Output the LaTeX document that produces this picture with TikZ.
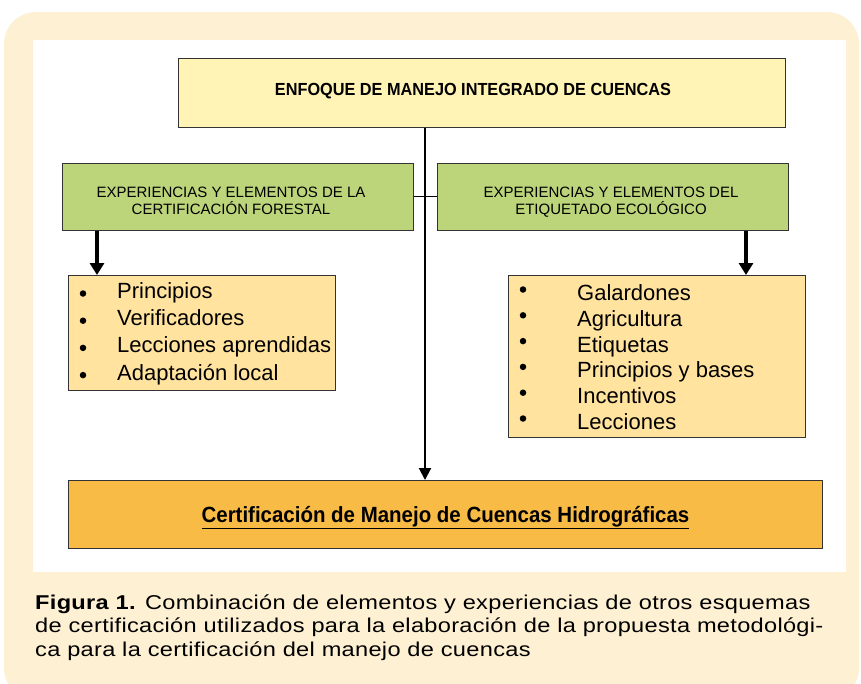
\documentclass[tikz,border=0pt]{standalone}
\usepackage{fontspec}
\setmainfont{Liberation Sans}
\newfontfamily\topfont[FakeStretch=0.93]{Liberation Sans}
\newfontfamily\capfont[FakeStretch=1.18,LetterSpace=1.5]{Liberation Sans}
\usetikzlibrary{arrows.meta}
\definecolor{panelc}{HTML}{FEF0D2}
\definecolor{topc}{HTML}{FFF3B6}
\definecolor{greenc}{HTML}{BCD47A}
\definecolor{listc}{HTML}{FFE39E}
\definecolor{botc}{HTML}{F8BB46}
\tikzset{
  box/.style={draw=black!80, line width=0.8pt, anchor=north west, inner sep=0pt},
  itemtxt/.style={anchor=base west, inner sep=0pt, font=\fontsize{22}{24}\selectfont},
  bul/.style={circle, fill=black, inner sep=0pt, minimum size=6.5pt},
  gtxt/.style={anchor=base, inner sep=0pt, font=\fontsize{15}{18}\selectfont},
  captxt/.style={anchor=base west, inner sep=0pt, font=\capfont\fontsize{20}{23}\selectfont},
  thick arrow/.style={line width=4pt, -{Triangle[length=12pt,width=14pt]}},
  thin arrow/.style={line width=2pt, -{Triangle[length=12pt,width=12pt]}},
}
\begin{document}
\begin{tikzpicture}[x=1pt,y=-1pt]
\useasboundingbox (0,0) rectangle (861,683);
% panel
\fill[panelc, rounded corners=32pt] (4,12) rectangle (859,700);
\fill[white] (33,40) rectangle (846,572);
% top box
\node[box, fill=topc, minimum width=607pt, minimum height=69pt] (top) at (178,58) {};
\node[anchor=base, inner sep=0pt, font=\topfont\bfseries\fontsize{17.5}{20}\selectfont] (toptxt) at (473,95.3) {ENFOQUE DE MANEJO INTEGRADO DE CUENCAS};
% green boxes
\node[box, fill=greenc, minimum width=351pt, minimum height=67pt] (gl) at (62,163) {};
\node[gtxt] (gl1) at (231,197) {EXPERIENCIAS Y ELEMENTOS DE LA};
\node[gtxt] (gl2) at (231,214) {CERTIFICACIÓN FORESTAL};
\node[box, fill=greenc, minimum width=351pt, minimum height=67pt] (gr) at (437,163) {};
\node[gtxt] (gr1) at (611,197) {EXPERIENCIAS Y ELEMENTOS DEL};
\node[gtxt] (gr2) at (611,214) {ETIQUETADO ECOLÓGICO};
% list boxes
\node[box, fill=listc, minimum width=267pt, minimum height=115pt] (ll) at (68,275) {};
\node[box, fill=listc, minimum width=297pt, minimum height=162pt] (lr) at (508,275) {};
% bottom box
\node[box, fill=botc, minimum width=754pt, minimum height=68pt] (bot) at (68,480) {};
\node[anchor=base, inner sep=0pt, font=\topfont\bfseries\fontsize{22}{24}\selectfont] (bottxt) at (445.5,522.3) {\underline{Certificación de Manejo de Cuencas Hidrográficas}};
% left list
\foreach \t [count=\i] in {Principios,Verificadores,Lecciones aprendidas,Adaptación local}{
  \node[bul] (lb\i) at (83,{293.5+27.2*(\i-1)}) {};
  \node[itemtxt] (li\i) at (117,{298.5+27.2*(\i-1)}) {\t};
}
% right list
\foreach \t [count=\i] in {Galardones,Agricultura,Etiquetas,Principios y bases,Incentivos,Lecciones}{
  \node[bul] (rb\i) at (523,{289.5+25.8*(\i-1)}) {};
  \node[itemtxt] (ri\i) at (577,{300.5+25.8*(\i-1)}) {\t};
}
% connectors
\coordinate (vx) at (425,127);
\draw[thin arrow] (top.south west -| vx) -- (bot.north west -| vx);
\draw[line width=0.9pt] (gl.east) -- (gr.west);
\coordinate (la) at (97,0);
\coordinate (ra) at (746,0);
\draw[thick arrow] (gl.south west -| la) -- (ll.north west -| la);
\draw[thick arrow] (gr.south west -| ra) -- (lr.north west -| ra);
% caption
\node[captxt] (cap1) at (35,609) {\textbf{Figura 1.} Combinación de elementos y experiencias de otros esquemas};
\node[captxt] (cap2) at (35,632.5) {de certificación utilizados para la elaboración de la propuesta metodológi-};
\node[captxt] (cap3) at (35,656) {ca para la certificación del manejo de cuencas};
\end{tikzpicture}
\end{document}
